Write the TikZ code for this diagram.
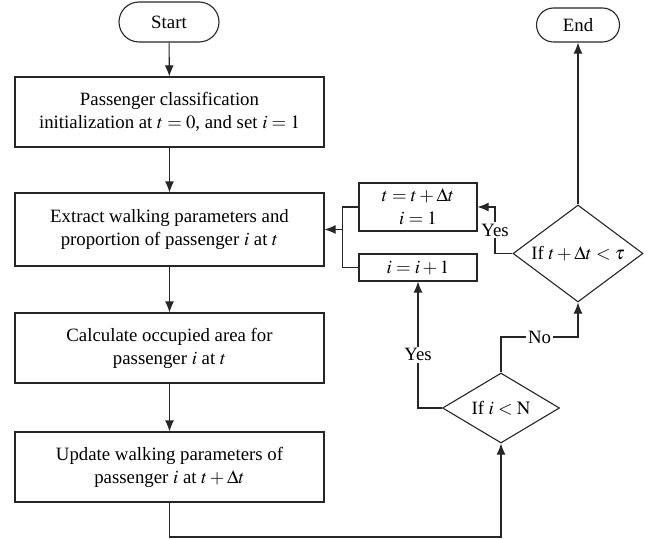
\documentclass[tikz,border=0pt]{standalone}
\usepackage{mathptmx}
\usepackage{fontspec}
\setmainfont{Liberation Serif}
\usetikzlibrary{
    arrows.meta,
    shapes,
    calc,
    positioning
}

\begin{document}
\begin{tikzpicture}[x=1pt, y=-1pt, line width=1.1pt, draw=black!85,
    >={Latex[length=11pt,width=9pt]},
    txt/.style={font=\fontsize{18.8}{23}\selectfont},
    term/.style={txt, draw, rounded rectangle, minimum height=34pt, inner sep=0pt},
    block/.style={txt, draw, align=center, minimum width=309pt, minimum height=70pt, inner sep=0pt},
    small/.style={txt, draw, align=center, minimum width=118pt, inner sep=0pt},
    choice/.style={txt, draw, diamond, inner sep=0pt},
    lbl/.style={txt, fill=white, inner sep=2pt}]
    \useasboundingbox (0,0) rectangle (655,540);
    % left column
    \node[term, minimum width=100pt, minimum height=40pt] (start) at (169,22) {Start};
    \node[block] (init) at (169.5,112) {Passenger classification\\initialization at $t=0$, and set $i=1$};
    \node[block, minimum height=73pt] (extract) at (169.5,229.5) {Extract walking parameters and\\proportion of passenger $i$ at $t$};
    \node[block] (area) at (169.5,348) {Calculate occupied area for\\passenger $i$ at $t$};
    \node[block] (update) at (169.5,467) {Update walking parameters of\\passenger $i$ at $t+\Delta t$};
    % right part
    \node[choice, aspect=1.67, minimum width=117pt, minimum height=70pt] (ifn) at (501,408) {If $i<\mathrm{N}$};
    \node[choice, aspect=1.34, minimum width=130pt, minimum height=97pt] (iftau) at (578,253.5) {If $t+\Delta t<\tau$};
    \node[term, minimum width=83pt] (end) at (578,25) {End};
    \node[small, minimum height=48pt] (reset) at (418,207) {$t=t+\Delta t$\\$i=1$};
    \node[small, minimum height=27pt] (next) at (418,267.5) {$i=i+1$};
    % connectors
    \draw[->] (start) -- (init);
    \draw[->] (init) -- (extract);
    \draw[->] (extract) -- (area);
    \draw[->] (area) -- (update);
    \coordinate (low) at (169.5,537);
    \draw[->] (update.south) -- (low) -| (ifn.south);
    \draw[->] (ifn.west) -| node[lbl, pos=0.71] {Yes} (next.south);
    \coordinate (nojoin) at (501,337);
    \draw[->] (ifn.north) -- (nojoin) -| node[lbl, pos=0.25] {No} (iftau.south);
    \draw[->] (iftau.north) -- (end.south);
    \coordinate (yesjoin) at (495,253.5);
    \draw[->] (iftau.west) -- (yesjoin) |- node[lbl, pos=0.25] {Yes} (reset.east);
    \coordinate (merge) at ($(extract.east)+(18,0)$);
    \draw (reset.west) -| (merge) |- (next.west);
    \draw[->] (merge) -- (extract.east);
\end{tikzpicture}
\end{document}
